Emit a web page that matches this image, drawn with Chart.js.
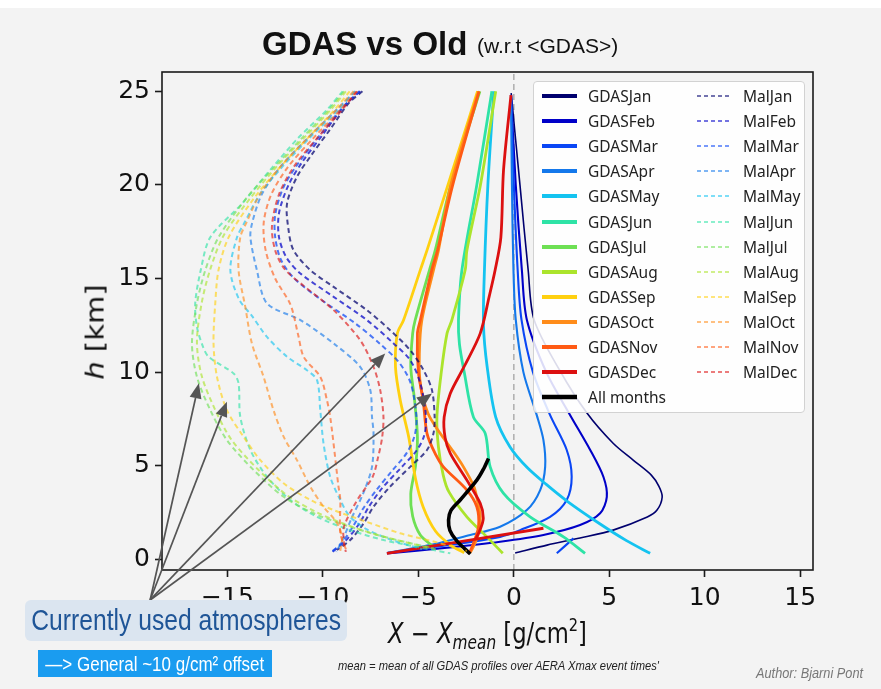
<!DOCTYPE html>
<html>
<head>
<meta charset="utf-8">
<title>GDAS vs Old</title>
<script src="https://cdn.jsdelivr.net/npm/chart.js@4.4.1/dist/chart.umd.min.js"></script>
<style>
  html, body { margin: 0; padding: 0; }
  body { width: 881px; height: 689px; background: #f3f3f3; position: relative; overflow: hidden;
         font-family: 'Liberation Sans', sans-serif; }
  #topbar { position: absolute; left: 0; top: 0; width: 881px; height: 8px; background: #fff; }
  #c { position: absolute; left: 0; top: 0; }
  .abs { position: absolute; white-space: nowrap; line-height: 1; }
  .sq { display: inline-block; transform: scaleX(0.85); }
  #title { left: 262px; top: 25px; font: bold 33px 'Liberation Sans', sans-serif; color: #111; }
  #subtitle { left: 477px; top: 35px; font-size: 21px; color: #111; }
  #ylabel { left: 95px; top: 332px; font: 29px 'DejaVu Sans', sans-serif; color: #111;
            transform: translate(-50%, -50%) rotate(-90deg) scaleY(0.85); }
  #xlabel { left: 388px; top: 614px; font: 28px 'DejaVu Sans', sans-serif; color: #111;
            transform: scaleX(0.81); transform-origin: left center; }
  #xlabel sub { font-size: 19px; vertical-align: -6px; }
  #xlabel sup { font-size: 18px; vertical-align: 12px; }
  #used { left: 25px; top: 600px; width: 322px; height: 41px; background: #dbe5f0; border-radius: 6px;
          color: #1f5597; font-size: 29px; display: flex; align-items: center; justify-content: center; }
  #offset { left: 38px; top: 650px; width: 234px; height: 27px; background: #1a9cf0;
            color: #fff; font-size: 20px; display: flex; align-items: center; justify-content: center; }
  #meannote { left: 338px; top: 659px; font-size: 13px; font-style: italic; color: #222;
              transform: scaleX(0.86); transform-origin: left center; }
  #author { left: 756px; top: 665px; font-size: 15px; font-style: italic; color: #777;
            transform: scaleX(0.85); transform-origin: left center; }
  #legend { left: 533px; top: 81px; width: 272px; height: 332px; background: rgba(255,255,255,0.86);
            border: 1px solid #d2d2d2; border-radius: 4px; box-sizing: border-box; }
  .lrow { position: absolute; height: 20px; display: flex; align-items: center;
          font: 15.5px 'Noto Sans', sans-serif; color: #222; white-space: nowrap; }
  .lrow svg { margin-right: 11px; }
</style>
</head>
<body>
<div id="topbar"></div>
<canvas id="c" width="881" height="689"></canvas>
<div class="abs" id="title">GDAS vs Old</div>
<div class="abs" id="subtitle">(w.r.t &lt;GDAS&gt;)</div>
<div class="abs" id="ylabel"><i>h</i> [km]</div>
<div class="abs" id="xlabel"><i>X</i> − <i>X</i><sub><i>mean</i></sub> [g/cm<sup>2</sup>]</div>
<div class="abs" id="legend"></div>
<div class="abs" id="used"><span class="sq">Currently used atmospheres</span></div>
<div class="abs" id="offset"><span class="sq">—&gt; General ~10 g/cm² offset</span></div>
<div class="abs" id="meannote">mean = mean of all GDAS profiles over AERA Xmax event times'</div>
<div class="abs" id="author">Author: Bjarni Pont</div>

<script>
// axis ticks
const xTicks = [-15, -10, -5, 0, 5, 10, 15];
const yTicks = [0, 5, 10, 15, 20, 25];
const xRange = [-18.43, 15.67];
const yRange = [-0.57, 26.03];

const months = ['Jan', 'Feb', 'Mar', 'Apr', 'May', 'Jun', 'Jul', 'Aug', 'Sep', 'Oct', 'Nov', 'Dec'];
const monthColors = ['#00006e', '#0000c8', '#0a46f5', '#1478eb', '#14c3f0', '#2ee3a6',
                     '#6ee054', '#abe42c', '#ffd010', '#ff8c1a', '#ff5a14', '#dc1010'];

// GDAS profiles, [X - Xmean, h]; null = pen up
const gdasJan = [[-0.14,24.9],[0.32,20],[0.75,15.45],[1.06,12.8],[2.4,10.1],[3.84,7.8],[5.2,6.2],[6.25,5.3],[7.2,4.5],[7.6,3.9],[7.77,3.33],[7.5,2.63],[6.99,2.26],[5.2,1.56],[3.47,1.14],[1.74,0.76],[0.07,0.34]];
const gdasFeb = [[-0.15,24.8],[0.1,20],[0.42,15.45],[0.68,12.8],[1.7,10],[2.95,7.7],[4.0,5.84],[4.69,4.41],[4.87,3.34],[4.52,2.46],[3.47,1.83],[1.55,1.3],[-0.72,0.94],[-3.5,0.62],[-6.65,0.32]];
const gdasMar = [[-0.15,24.8],[0.0,20],[0.2,15.45],[0.4,12.8],[1.0,10],[1.9,7.7],[2.77,5.84],[3.03,4.41],[2.77,3.17],[1.9,2.27],[0.33,1.56],[-0.72,1.2],[-3.5,0.75],[-6.6,0.35],null,[2.25,0.32],[3.12,1.12]];
const gdasApr = [[-0.15,24.8],[-0.1,20],[-0.02,15.45],[0.1,12.8],[0.5,10],[1.2,7.7],[1.55,6.37],[1.64,4.94],[1.38,3.7],[0.68,2.63],[-0.72,1.74],[-2.5,1.25],[-4.2,0.8],[-6.6,0.35]];
const gdasMay = [[-1.05,25],[-1.36,20],[-1.54,15.45],[-1.59,12.5],[-1.4,10.3],[-0.95,7.6],[-0.2,6.0],[0.7,4.9],[1.7,4.0],[2.8,3.1],[4.5,1.9],[5.9,1.0],[7.14,0.32]];
const gdasJun = [[-1.15,25],[-1.94,20],[-2.72,15.45],[-2.9,12.77],[-2.85,11.5],[-2.6,10],[-2.12,7.61],[-1.5,6.73],[-1.24,4.94],[-0.54,3.52],[0.85,2.27],[2.6,1.2],[3.73,0.32]];
const gdasJul = [[-1.78,25],[-3.3,20],[-4.12,16.5],[-4.42,15.45],[-5.17,12.77],[-5.3,12.07],[-5.4,10.3],[-5.2,8.5],[-5.05,6.5],[-5.15,5.0],[-5.4,3.5],[-5.3,2.3],[-4.9,1.3],[-4.21,0.67]];
const gdasAug = [[-0.95,25],[-1.75,20],[-2.46,16.5],[-2.55,15.45],[-3.25,12.77],[-3.5,12.07],[-3.8,10],[-4.03,7.61],[-3.95,6],[-3.7,4.5],[-3.4,3.6],[-2.46,2.27],[-1.41,1.2],[-0.58,0.32]];
const gdasSep = [[-1.9,25],[-3.45,20],[-4.55,16.5],[-4.9,15.45],[-5.78,12.77],[-6.1,12.07],[-6.2,10.28],[-5.95,8.5],[-5.5,6.5],[-5.15,4.3],[-4.75,2.8],[-4.1,1.5],[-3.3,0.75],[-2.6,0.35]];
const gdasOct = [[-1.85,25],[-3.3,20],[-3.95,16.5],[-4.21,15.45],[-4.82,12.77],[-4.95,11],[-4.9,9.4],[-4.5,7.8],[-3.86,6.73],[-3.2,5.8],[-2.64,4.94],[-2.1,3.9],[-1.9,3.1],[-1.76,2.27],[-1.85,1.4],[-2.12,0.67],[-2.3,0.35]];
const gdasNov = [[-1.82,25],[-3.2,20],[-4.0,16.5],[-4.3,15.45],[-4.9,12.77],[-5.05,12.07],[-5.0,10],[-4.75,8.5],[-4.55,6.73],[-4.1,5.6],[-3.69,4.94],[-2.46,3.7],[-1.94,2.81],[-1.85,1.74],[-2.12,0.85],[-2.3,0.4]];
const gdasDec = [[-0.15,24.8],[-0.54,20.8],[-0.68,17.2],[-0.98,15.45],[-1.3,14.0],[-1.76,12.07],[-2.6,10.3],[-3.33,8.86],[-3.65,7.6],[-3.6,6.5],[-3.33,5.66],[-2.46,4.23],[-1.76,2.99],[-1.6,2.2],[-1.76,1.6],[-2.0,1.08],null,[-6.65,0.32],[1.55,1.66]];
const gdasAll = [[-1.33,5.39],[-1.6,4.8],[-1.94,4.23],[-2.81,3.17],[-3.3,2.6],[-3.42,2.1],[-3.35,1.55],[-3.0,1.0],[-2.28,0.28]];

// old (Malargue) monthly profiles
const malJan = [[-7.93,25],[-8.66,24.35],[-9.6,23.0],[-10.6,21.6],[-11.36,20.43],[-11.88,19.0],[-11.8,17.58],[-11.54,16.51],[-10.66,15.45],[-9.44,14.55],[-7.7,13.31],[-6.48,12.24],[-5.43,11.17],[-4.73,10.1],[-4.29,9.04],[-4.15,7.61],[-4.21,6.73],[-4.55,5.84],[-5.43,4.94],[-6.48,3.88],[-7.35,2.81],[-7.87,1.92],[-8.57,1.03],[-9.27,0.5]];
const malFeb = [[-8.05,25],[-8.9,24.2],[-10.0,22.7],[-11.1,21.2],[-11.8,20.0],[-12.3,18.5],[-12.3,17.2],[-11.9,16.1],[-11.18,15.27],[-9.44,14.02],[-7.7,12.78],[-6.3,11.53],[-5.43,10.64],[-4.9,9.4],[-4.6,7.61],[-4.7,6.6],[-5.1,5.8],[-5.9,4.9],[-6.9,3.8],[-7.6,2.8],[-8.1,1.9],[-8.8,1.0],[-9.5,0.4]];
const malMar = [[-8.1,25],[-9.0,24.1],[-10.2,22.6],[-11.4,21.0],[-12.1,19.8],[-12.5,18.4],[-12.5,17.2],[-12.2,16.0],[-11.5,15.0],[-10.0,13.8],[-8.3,12.6],[-7.0,11.5],[-6.0,10.5],[-5.4,9.4],[-5.1,7.6],[-5.2,6.6],[-5.6,5.7],[-6.4,4.7],[-7.2,3.7],[-7.9,2.7],[-8.4,1.8],[-9.0,0.9],[-9.6,0.35]];
const malApr = [[-8.3,25],[-9.3,24],[-10.8,22.5],[-12.2,21],[-13.2,19.5],[-13.7,18],[-13.8,17.2],[-13.46,15.45],[-12.93,13.67],[-11.18,12.78],[-9.44,11.53],[-8.05,10.28],[-7.52,9.04],[-7.43,7.61],[-7.35,6.73],[-7.43,4.94],[-7.9,3.5],[-8.5,2.2],[-8.9,1.2],[-9.3,0.4]];
const malMay = [[-8.35,25],[-9.2,24],[-10.7,22.5],[-12.1,21],[-13.3,19.5],[-14.1,18],[-14.5,17.2],[-14.85,15.45],[-14.4,13.9],[-13.72,13.0],[-12.93,11.88],[-11.88,10.82],[-10.84,10.1],[-10.31,9.57],[-10.14,7.97],[-9.97,6.19],[-9.62,4.41],[-9.09,3.17],[-8.6,2.3],[-7.7,1.6],[-6.3,1.0],[-4.8,0.55]];
const malJun = [[-8.97,25],[-9.8,24],[-11.3,22.5],[-12.76,20.8],[-14.24,19.0],[-15.9,17.2],[-16.4,15.45],[-16.69,13.67],[-16.6,12.42],[-16.3,11.4],[-15.99,10.82],[-14.68,9.93],[-14.42,9.4],[-14.33,7.61],[-13.8,5.84],[-12.93,4.41],[-11.71,3.17],[-10.31,2.27],[-8.57,1.56],[-6.83,1.03],[-5.08,0.67],[-3.33,0.32]];
const malJul = [[-8.9,25],[-9.7,24],[-11.1,22.5],[-12.5,21],[-14.0,19.3],[-15.47,17.2],[-16.16,15.45],[-16.6,13.67],[-16.86,11.53],[-16.6,9.75],[-15.9,7.97],[-15.03,6.37],[-13.63,4.77],[-12.06,3.34],[-10.49,2.46],[-9.09,1.92],[-7.5,1.4],[-6.0,1.0],[-4.21,0.59]];
const malAug = [[-8.8,25],[-9.6,24],[-11.0,22.5],[-12.4,21],[-13.8,19.3],[-15.2,17.3],[-15.9,15.5],[-16.35,13.7],[-16.6,11.6],[-16.35,9.8],[-15.65,8.0],[-14.8,6.4],[-13.4,4.8],[-11.85,3.4],[-10.3,2.5],[-8.9,1.9],[-7.3,1.35],[-5.7,0.92],[-3.9,0.5]];
const malSep = [[-8.6,25],[-9.4,24],[-10.8,22.5],[-12.2,21],[-13.6,19.3],[-14.94,17.2],[-15.47,15.45],[-15.64,13.67],[-15.73,11.53],[-15.55,9.75],[-15.03,7.97],[-14.16,6.55],[-13.28,5.3],[-12.06,4.06],[-10.66,3.17],[-9.44,2.63],[-7.7,2.0],[-5.95,1.39],[-4.21,0.95],[-2.46,0.45]];
const malOct = [[-8.4,25],[-9.3,24],[-10.8,22.5],[-12.2,21],[-13.3,19.5],[-14.0,18],[-14.33,17.2],[-14.42,15.45],[-14.07,13.5],[-13.72,11.53],[-13.11,9.75],[-12.59,7.97],[-12.06,6.55],[-11.36,5.3],[-10.66,3.88],[-9.97,2.81],[-9.3,2.0],[-9.0,1.2],[-9.1,0.4]];
const malNov = [[-8.25,25],[-9.1,24],[-10.5,22.5],[-11.8,21],[-12.7,19.5],[-13.1,18],[-13.0,16.5],[-12.5,15.0],[-11.7,13.6],[-11.3,12.0],[-11.0,10.8],[-10.14,9.75],[-9.79,8.5],[-9.62,7.61],[-9.4,5.8],[-9.2,4.0],[-9.09,3.17],[-9.09,1.39],[-8.74,0.4]];
const malDec = [[-8.2,25],[-9.0,24],[-10.3,22.5],[-11.5,21],[-12.3,19.5],[-12.67,17.8],[-12.5,16.5],[-12.0,15.5],[-11.0,14.6],[-9.44,13.31],[-8.05,11.71],[-7.35,10.28],[-7.0,9.04],[-6.83,7.61],[-6.9,6.5],[-7.1,5.5],[-7.4,4.4],[-8.2,3.17],[-8.9,1.74],[-8.9,0.9],[-8.8,0.4]];

const gdasCurves = [gdasJan, gdasFeb, gdasMar, gdasApr, gdasMay, gdasJun, gdasJul, gdasAug, gdasSep, gdasOct, gdasNov, gdasDec];
const malCurves = [malJan, malFeb, malMar, malApr, malMay, malJun, malJul, malAug, malSep, malOct, malNov, malDec];

// annotation arrows: common start and the four tips
const arrowOrigin = [-19.05, -2.17];
const arrowTips = [[-16.5, 9.4], [-15.03, 8.42], [-6.74, 11.0], [-4.29, 8.86]];

function fade(hex, a) {
    const n = parseInt(hex.slice(1), 16);
    return `rgba(${n >> 16},${(n >> 8) & 255},${n & 255},${a})`;
}
const toPts = arr => arr.map(p => p ? { x: p[0], y: p[1] } : { x: null, y: null });

const datasets = [];
datasets.push({
    label: 'zero', data: [{ x: 0, y: yRange[0] }, { x: 0, y: yRange[1] }],
    borderColor: '#a3a3a3', borderWidth: 1.3, borderDash: [6, 4], tension: 0
});
gdasCurves.forEach((c, i) => datasets.push({
    label: 'GDAS' + months[i], data: toPts(c), borderColor: monthColors[i],
    borderWidth: i === 0 ? 1.6 : (i < 4 ? 2.1 : 2.8), tension: 0.3
}));
datasets.push({ label: 'All months', data: toPts(gdasAll), borderColor: '#000', borderWidth: 3.6, tension: 0.3 });
malCurves.forEach((c, i) => datasets.push({
    label: 'Mal' + months[i], data: toPts(c), borderColor: fade(monthColors[i], i < 3 ? 0.72 : 0.64),
    borderWidth: 2, borderDash: [5, 3.5], tension: 0.3
}));
// later datasets on top
datasets.forEach((d, i) => {
    d.order = datasets.length - i;
    d.showLine = true; d.pointRadius = 0; d.pointHoverRadius = 0; d.fill = false; d.spanGaps = false;
});

const framePlugin = {
    id: 'frame',
    afterDatasetsDraw(chart) {
        const { ctx, chartArea: a } = chart;
        ctx.save();
        ctx.strokeStyle = '#1a1a1a';
        ctx.lineWidth = 1.6;
        ctx.strokeRect(a.left, a.top, a.right - a.left, a.bottom - a.top);
        ctx.restore();
    }
};

const arrowPlugin = {
    id: 'arrows',
    afterDatasetsDraw(chart) {
        const { ctx, scales: { x, y } } = chart;
        const ox = x.getPixelForValue(arrowOrigin[0]);
        const oy = y.getPixelForValue(arrowOrigin[1]);
        ctx.save();
        ctx.strokeStyle = '#555';
        ctx.fillStyle = '#555';
        ctx.lineWidth = 1.7;
        arrowTips.forEach(([tx, th]) => {
            const px = x.getPixelForValue(tx), py = y.getPixelForValue(th);
            const ang = Math.atan2(py - oy, px - ox);
            const len = 15, half = 6;
            const bx = px - len * Math.cos(ang), by = py - len * Math.sin(ang);
            ctx.beginPath(); ctx.moveTo(ox, oy); ctx.lineTo(bx, by); ctx.stroke();
            ctx.beginPath();
            ctx.moveTo(px, py);
            ctx.lineTo(bx + half * Math.sin(ang), by - half * Math.cos(ang));
            ctx.lineTo(bx - half * Math.sin(ang), by + half * Math.cos(ang));
            ctx.closePath(); ctx.fill();
        });
        ctx.restore();
    }
};

const tickFont = { family: "'DejaVu Sans', sans-serif", size: 25 };
const gridOpts = { drawOnChartArea: false, drawTicks: true, tickLength: 7, tickWidth: 1.6, tickColor: '#1a1a1a' };

new Chart(document.getElementById('c'), {
    type: 'scatter',
    data: { datasets },
    options: {
        responsive: false,
        animation: false,
        devicePixelRatio: 1,
        events: [],
        layout: { padding: { left: 102, right: 68, top: 72, bottom: 74 } },
        plugins: { legend: { display: false }, tooltip: { enabled: false } },
        scales: {
            x: {
                type: 'linear', min: xRange[0], max: xRange[1],
                afterBuildTicks: s => { s.ticks = xTicks.map(v => ({ value: v })); },
                afterFit: s => { s.height = 45; },
                grid: gridOpts, border: { display: false },
                ticks: { font: tickFont, color: '#111', padding: 6, maxRotation: 0,
                         callback: v => (v < 0 ? '\u2212' : '') + Math.abs(v) }
            },
            y: {
                type: 'linear', min: yRange[0], max: yRange[1],
                afterBuildTicks: s => { s.ticks = yTicks.map(v => ({ value: v })); },
                afterFit: s => { s.width = 60; },
                grid: gridOpts, border: { display: false },
                ticks: { font: tickFont, color: '#111', padding: 5 }
            }
        }
    },
    plugins: [framePlugin, arrowPlugin]
});

// legend box, two columns like the original
const legend = document.getElementById('legend');
function addRow(col, row, text, color, width, dash) {
    const div = document.createElement('div');
    div.className = 'lrow';
    div.style.left = (col === 0 ? 8 : 163) + 'px';
    div.style.top = (4 + row * 25.1) + 'px';
    div.innerHTML = `<svg width="35" height="10"><line x1="0" y1="5" x2="35" y2="5" stroke="${color}" stroke-width="${width}"` +
        (dash ? ` stroke-dasharray="${dash}"` : '') + `/></svg>${text}`;
    legend.appendChild(div);
}
months.forEach((m, i) => {
    addRow(0, i, 'GDAS' + m, monthColors[i], 3.8);
    addRow(1, i, 'Mal' + m, fade(monthColors[i], 0.55), 1.8, '4 3');
});
addRow(0, 12, 'All months', '#000', 4.5);
</script>
</body>
</html>
